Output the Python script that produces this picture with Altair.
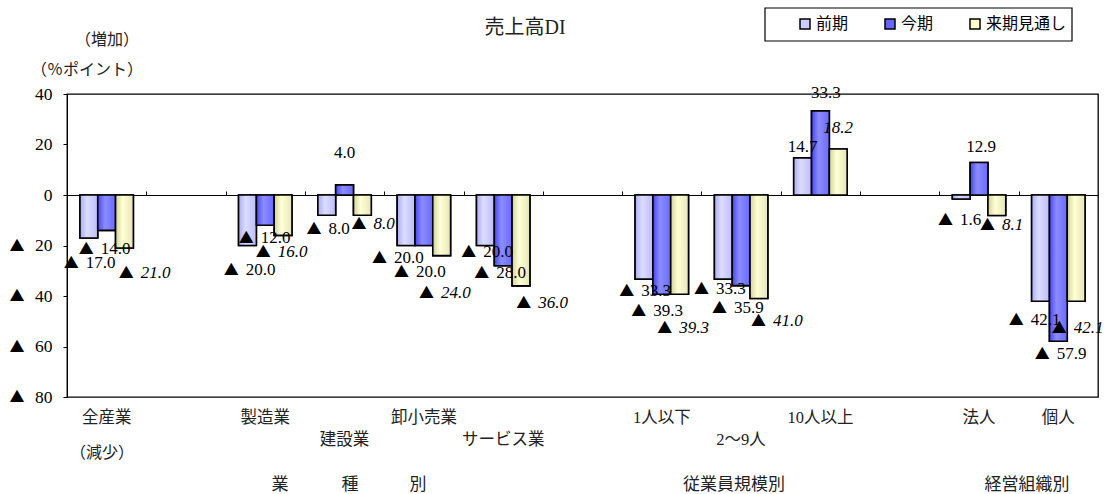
import altair as alt
import pandas as pd

# ---- data -------------------------------------------------------------
# Empty strings are spacer slots between the three groupings.
categories = ["全産業", "", "製造業", "建設業", "卸小売業", "サービス業", "",
              "1人以下", "2～9人", "10人以上", "", "法人", "個人"]
label_row = [0, None, 0, 1, 0, 1, None, 0, 1, 0, None, 0, 0]
series = ["前期", "今期", "来期見通し"]
prev_term = [-17.0, None, -20.0, -8.0, -20.0, -20.0, None, -33.3, -33.3, 14.7, None, -1.6, -42.1]
this_term = [-14.0, None, -12.0, 4.0, -20.0, -28.0, None, -39.3, -35.9, 33.3, None, 12.9, -57.9]
next_term = [-21.0, None, -16.0, -8.0, -24.0, -36.0, None, -39.3, -41.0, 18.2, None, -8.1, -42.1]
y_ticks = [-80, -60, -40, -20, 0, 20, 40]

# Value-label nudges in pixels, relative to the bar's centre and end.
# Horizontal: for a negative value it places the left edge of "▲",
# for a positive value the centre of the number.  Vertical: downwards.
nudge_x = [[-24, -26.8, -4.6], None, [-22.7, -25.5, -26.3], [-19.2, 0, -9.8],
           [-33.2, -29, -21.8], [-23.2, -28, -3.8], None, [-23.7, -29.5, -21.3],
           [-28.2, -28, -6.8], [0, 5.5, 0], None, [-22.2, 2, -15.8], [-30.7, -22.5, -23.3]]
nudge_y = [[25, 18.6, 25], None, [24.5, 12.7, 16.6], [13.8, -31.9, 8.8], [12.5, 26.5, 37.4],
           [6.5, 7.3, 17], None, [12, 16.8, 33.8], [10, 22.4, 22.5], [-11, -18, -21], None,
           [21, -15, 9.5], [18.7, 12.8, 26.7]]

# ---- layout -----------------------------------------------------------
W, H = 1031, 303
Y_MIN, Y_MAX = -80, 40
N = len(categories)
SLOT = W / N
PPU = H / (Y_MAX - Y_MIN)
BAR_W = 0.2245  # bar width in slot units

SERIF = "Liberation Serif, Noto Sans CJK JP"
SANS = "Noto Sans CJK JP"
MARK = "▲"

values = [prev_term, this_term, next_term]
rows = []
for i, cat in enumerate(categories):
    if not cat:
        continue
    for j, s in enumerate(series):
        v = values[j][i]
        c = i + 0.5 + (j - 1) * BAR_W
        rows.append({
            "category": cat, "series": s, "value": v,
            "x0": c - BAR_W / 2, "x1": c + BAR_W / 2,
            "lx": c + nudge_x[i][j] / SLOT, "ly": v - nudge_y[i][j] / PPU,
            "neg": bool(v < 0),
            "forecast": s == series[2],
            "num": f"{abs(v):.1f}",
            "tri": MARK if v < 0 else "",
        })
df = pd.DataFrame(rows)

cat_df = pd.DataFrame([
    {"category": c, "cx": i + 0.5, "row": label_row[i]}
    for i, c in enumerate(categories) if c
])
neg_ticks = pd.DataFrame({"tick": [t for t in y_ticks if t < 0], "tri": MARK})

x_scale = alt.Scale(domain=[0, N], nice=False, zero=False)
y_scale = alt.Scale(domain=[Y_MIN, Y_MAX], nice=False, zero=False)

# zero line with upward ticks between the category slots
x_axis = alt.Axis(
    orient="top", offset=-(Y_MAX * PPU), values=list(range(1, N)),
    labels=False, title=None, grid=False, tickSize=4,
    domainColor="black", tickColor="black", domainWidth=1, tickWidth=1)
y_axis = alt.Axis(
    values=y_ticks, title=None, grid=False, tickSize=4, labelPadding=11,
    labelExpr="format(abs(datum.value), 'd')",
    labelFont=SERIF, labelFontSize=17.5, labelColor="black",
    domainColor="black", tickColor="black")

solid = ["#CCCCFF", "#6666FF", "#FFFFCC"]
shades = [
    ("#ADADF2", "#DCDCFF", "#BDBDF8"),
    ("#4646F2", "#8C8CFF", "#6A6AFF"),
    ("#D2D29C", "#FFFFD6", "#E6E6B6"),
]


def shade(a, b, c):
    return alt.LinearGradient(
        gradient="linear", x1=0, x2=1, y1=0, y2=0,
        stops=[alt.GradientStop(color=a, offset=0),
               alt.GradientStop(color=b, offset=0.4),
               alt.GradientStop(color=c, offset=1)],
    )


def xy(xf, yf):
    return dict(
        x=alt.X(xf, scale=x_scale, axis=x_axis),
        y=alt.Y(yf, scale=y_scale, axis=y_axis),
    )


base = alt.Chart(df)

bars = base.mark_bar(stroke="black", strokeWidth=1.6).encode(
    **xy("x0:Q", "value:Q"),
    x2="x1:Q",
    y2=alt.datum(0),
    color=alt.Color("series:N", scale=alt.Scale(domain=series, range=solid),
                    legend=alt.Legend(
                        orient="none", legendX=730, legendY=-78, direction="horizontal",
                        title=None, symbolType="square", symbolSize=100,
                        symbolStrokeColor="black", symbolStrokeWidth=1.5,
                        labelFont=SANS, labelFontSize=16, labelColor="black",
                        labelOffset=3, columnPadding=33, padding=0)),
)

shaded = [
    base.transform_filter(alt.datum.series == s)
    .mark_bar(fill=shade(*shades[j]), stroke="black", strokeWidth=1.6)
    .encode(**xy("x0:Q", "value:Q"), x2="x1:Q", y2=alt.datum(0))
    for j, s in enumerate(series)
]

# value labels: a large "▲" for negatives, then the number in serif
tri_labels = base.transform_filter(alt.datum.neg).mark_text(
    font=SANS, fontSize=15, color="black", align="left", baseline="middle", dx=-1
).encode(**xy("lx:Q", "ly:Q"), text="tri:N")


def number_layer(negative, forecast):
    props = dict(font=SERIF, fontSize=17, color="black", baseline="middle")
    if forecast:
        props["fontStyle"] = "italic"
    if negative:
        props.update(align="left", dx=21)
    else:
        props.update(align="center")
    cond = (alt.datum.neg if negative else ~alt.datum.neg)
    cond = cond & (alt.datum.forecast if forecast else ~alt.datum.forecast)
    return base.transform_filter(cond).mark_text(**props).encode(
        **xy("lx:Q", "ly:Q"), text="num:N")


num_labels = [number_layer(n, f) for n in (True, False) for f in (False, True)]

axis_marks = alt.Chart(neg_ticks).mark_text(
    font=SANS, fontSize=15, color="black", align="center", baseline="middle"
).encode(
    x=alt.value(-50),
    y=alt.Y("tick:Q", scale=y_scale, axis=y_axis),
    text="tri:N",
)

cat_labels = [
    alt.Chart(cat_df).transform_filter(alt.datum.row == r).mark_text(
        font=SERIF, fontSize=16.5, color="#222", align="center", baseline="middle"
    ).encode(
        x=alt.X("cx:Q", scale=x_scale, axis=x_axis),
        y=alt.value(yy),
        text="category:N",
    )
    for r, yy in [(0, 324), (1, 346)]
]


def note(text, px, py, size=16, font=SERIF):
    return alt.Chart(pd.DataFrame({"t": [text]})).mark_text(
        font=font, fontSize=size, color="#222", align="center", baseline="middle"
    ).encode(x=alt.value(px), y=alt.value(py), text="t:N")


notes = [
    note("売上高DI", 458, -66, 20),
    note("（増加）", 40, -54, 16),
    note("（％ポイント）", 20, -24, 16),
    note("（減少）", 35, 359, 16),
    note("業", 213, 391, 17),
    note("種", 283, 391, 17),
    note("別", 351, 391, 17),
    note("従業員規模別", 667, 391, 17),
    note("経営組織別", 960, 391, 17),
]

legend_frame = alt.Chart(pd.DataFrame({"t": [0]})).mark_rect(
    filled=False, stroke="black", strokeWidth=1.2
).encode(x=alt.value(698), x2=alt.value(1005), y=alt.value(-86), y2=alt.value(-53))

chart = alt.layer(
    bars, *shaded, tri_labels, *num_labels, axis_marks, *cat_labels, *notes, legend_frame
).properties(
    width=W, height=H,
    autosize=alt.AutoSizeParams(type="none"),
    padding={"left": 67, "top": 94, "right": 18, "bottom": 97},
).configure_view(stroke="black", strokeWidth=1.3)

chart.save("out.html", embed_options={"renderer": "svg", "actions": False})
